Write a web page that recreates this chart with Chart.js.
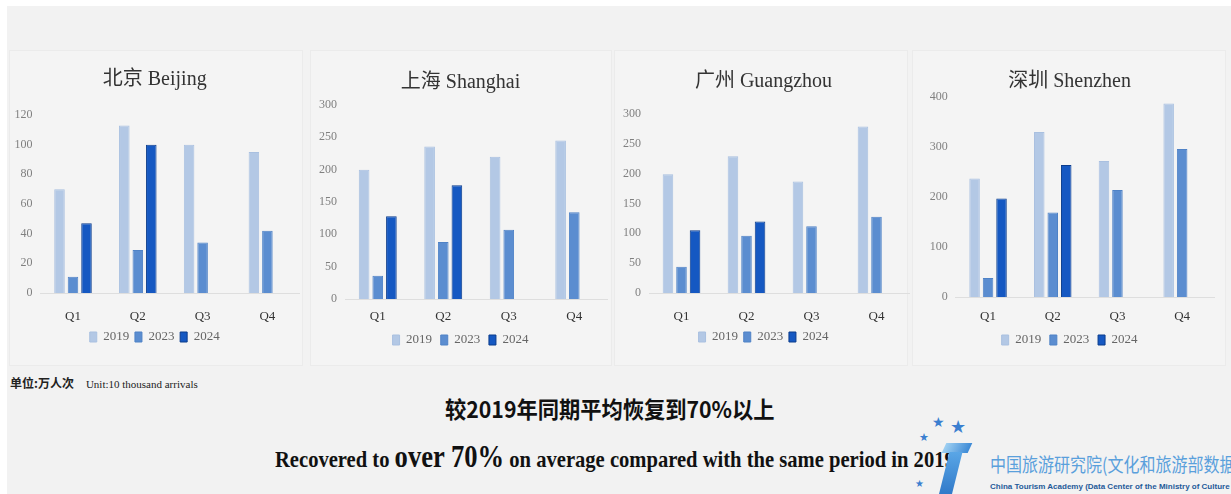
<!DOCTYPE html>
<html>
<head>
<meta charset="utf-8">
<script src="https://cdn.jsdelivr.net/npm/chart.js@4.4.1/dist/chart.umd.min.js"></script>
<style>
  html, body { margin: 0; padding: 0; background: #fff; }
  #stage { position: relative; width: 1231px; height: 494px; overflow: hidden; background: #fff; }
  #bg { position: absolute; left: 7px; top: 6px; right: 0; bottom: 0; background: #f2f2f2; }
  .panel { position: absolute; top: 50px; height: 316px; background: #f4f4f4; border: 1px solid #ebebeb; box-sizing: border-box; }
  .chartbox { position: absolute; }
  .unit { position: absolute; left: 10px; top: 374px; font-size: 12px; color: #222; white-space: nowrap; }
  .unit b { font-family: "Noto Sans CJK SC", sans-serif; font-weight: 700; }
  .unit span { font-family: "Liberation Serif", serif; font-size: 11px; margin-left: 12px; }
  .head-cn { position: absolute; left: 445px; top: 393px; font-family: "Noto Sans CJK SC", sans-serif; font-weight: 700; font-size: 23px; color: #111; line-height: 30px; white-space: nowrap; transform-origin: left top; }
  .head-en { position: absolute; left: 275px; top: 440px; font-family: "Liberation Serif", serif; font-weight: 700; font-size: 24px; color: #111; white-space: nowrap; transform-origin: left top; line-height: 34px; }
  .head-en .big { font-size: 31px; }
  .star { position: absolute; color: #3b7fd0; line-height: 1; }
  .logo-cn { position: absolute; left: 990px; top: 452px; font-family: "Noto Sans CJK SC", sans-serif; font-size: 16px; color: #5aa0dc; white-space: nowrap; line-height: 20px; transform: scaleY(1.2); transform-origin: left top; }
  .logo-en { position: absolute; left: 990px; top: 482px; font-family: "Liberation Sans", sans-serif; font-weight: 700; font-size: 8px; color: #1f5a99; white-space: nowrap; }
</style>
</head>
<body>
<div id="stage">
  <div id="bg"></div>
  <div class="panel" style="left:9px;width:294px"></div>
  <div class="panel" style="left:310px;width:302px"></div>
  <div class="panel" style="left:614px;width:294px"></div>
  <div class="panel" style="left:912px;width:314px"></div>

  <div class="chartbox" id="box0"><canvas id="c0"></canvas></div>
  <div class="chartbox" id="box1"><canvas id="c1"></canvas></div>
  <div class="chartbox" id="box2"><canvas id="c2"></canvas></div>
  <div class="chartbox" id="box3"><canvas id="c3"></canvas></div>

  <div class="unit"><b>单位:万人次</b><span>Unit:10 thousand arrivals</span></div>
  <div class="head-cn" id="headCn">较2019年同期平均恢复到70%以上</div>
  <div class="head-en" id="headEn">Recovered to <span class="big">over 70%</span> on average compared with the same period in 2019</div>

  <!-- logo -->
  <div class="star" style="left:932px;top:416px;font-size:14px">★</div>
  <div class="star" style="left:950px;top:418px;font-size:18px">★</div>
  <div class="star" style="left:919px;top:432px;font-size:11px">★</div>
  <div class="star" style="left:915px;top:479px;font-size:10px">★</div>
  <div style="position:absolute;left:944px;top:443px;width:26px;height:10px;background:linear-gradient(90deg,#9fd0f2,#3d8ad6);transform:skewX(-25deg)"></div>
  <div style="position:absolute;left:944px;top:452px;width:13px;height:44px;background:linear-gradient(180deg,#5aa6e6,#2f78c8);transform:skewX(-14deg)"></div>
  <div class="logo-cn">中国旅游研究院(文化和旅游部数据中心)</div>
  <div class="logo-en">China Tourism Academy (Data Center of the Ministry of Culture and Tourism)</div>
</div>

<script>
const quarters = ['Q1', 'Q2', 'Q3', 'Q4'];
const years = ['2019', '2023', '2024'];

const beijing2019 = [70, 113, 100, 95];
const beijing2023 = [11, 29, 34, 42];
const beijing2024 = [47, 100, null, null];
const beijingTicks = [0, 20, 40, 60, 80, 100, 120];

const shanghai2019 = [200, 236, 220, 245];
const shanghai2023 = [36, 88, 107, 134];
const shanghai2024 = [128, 176, null, null];
const shanghaiTicks = [0, 50, 100, 150, 200, 250, 300];

const guangzhou2019 = [199, 229, 187, 279];
const guangzhou2023 = [44, 96, 112, 128];
const guangzhou2024 = [105, 120, null, null];
const guangzhouTicks = [0, 50, 100, 150, 200, 250, 300];

const shenzhen2019 = [237, 330, 272, 387];
const shenzhen2023 = [38, 169, 214, 296];
const shenzhen2024 = [197, 264, null, null];
const shenzhenTicks = [0, 100, 200, 300, 400];

const barColors = ['#b3c8e5', '#5b8dd0', '#1558c2'];
const barBorders = ['#a9c0e0', '#4f82c6', '#0b3c8c'];

// where each panel sits on the page (px)
const panels = [
  { left: 9,   width: 294, plotLeft: 40.6,  plotRight: 299.8,  titleY: 80, plotTop: 115, baseline: 293, labelY: 317, legendY: 337 },
  { left: 310, width: 302, plotLeft: 345,   plotRight: 607,    titleY: 83, plotTop: 105, baseline: 299, labelY: 317, legendY: 340 },
  { left: 614, width: 298, plotLeft: 649,   plotRight: 909,    titleY: 82, plotTop: 114, baseline: 293, labelY: 317, legendY: 337 },
  { left: 912, width: 314, plotLeft: 955.7, plotRight: 1214.5, titleY: 82, plotTop: 97,  baseline: 297, labelY: 317, legendY: 340 }
];
const TOP = 50, HEIGHT = 316, Y_AXIS_W = 31;

const serif = "'Liberation Serif', 'Times New Roman', serif";

function makeChart(i, title, s2019, s2023, s2024, ticks) {
  const p = panels[i];
  const box = document.getElementById('box' + i);
  box.style.left = p.left + 'px';
  box.style.top = TOP + 'px';
  box.style.width = p.width + 'px';
  box.style.height = HEIGHT + 'px';

  const xTickPad = p.labelY - p.baseline - 7.8;
  const xH = xTickPad + 15.6;
  const legPad = p.legendY - p.labelY - 14.3;
  const legH = 13 + legPad + 10;
  const padBottom = TOP + HEIGHT - (p.baseline + xH + legH);

  const step = ticks[1] - ticks[0];
  const series = [s2019, s2023, s2024];

  return new Chart(document.getElementById('c' + i), {
    type: 'bar',
    data: {
      labels: quarters,
      datasets: years.map((y, k) => ({
        label: y,
        data: series[k],
        backgroundColor: barColors[k],
        borderColor: barBorders[k],
        borderWidth: 1,
        categoryPercentage: 0.625,
        barPercentage: 0.78
      }))
    },
    options: {
      responsive: true,
      maintainAspectRatio: false,
      animation: false,
      layout: {
        padding: {
          left: p.plotLeft - Y_AXIS_W - p.left,
          right: p.left + p.width - p.plotRight,
          top: 0,
          bottom: padBottom
        }
      },
      plugins: {
        title: {
          display: true,
          text: title,
          color: '#333',
          font: { family: serif + ", 'Noto Sans CJK SC'", size: 20, weight: 'normal' },
          padding: { top: p.titleY - TOP - 12, bottom: p.plotTop - p.titleY - 12 }
        },
        legend: {
          position: 'bottom',
          labels: {
            boxWidth: 7,
            boxHeight: 10,
            padding: legPad,
            color: '#666',
            font: { family: serif, size: 13 }
          }
        },
        tooltip: { enabled: false }
      },
      scales: {
        x: {
          grid: { display: false, drawTicks: false },
          border: { display: true, color: '#dedede' },
          ticks: { color: '#333', padding: xTickPad, font: { family: serif, size: 13 } },
          afterFit: s => { s.height = xH; }
        },
        y: {
          min: ticks[0],
          max: ticks[ticks.length - 1],
          grid: { display: false, drawTicks: false },
          border: { display: false },
          ticks: { stepSize: step, color: '#808080', padding: 8, font: { family: serif, size: 12 } },
          afterFit: s => { s.width = Y_AXIS_W; }
        }
      }
    }
  });
}

makeChart(0, '北京 Beijing', beijing2019, beijing2023, beijing2024, beijingTicks);
makeChart(1, '上海 Shanghai', shanghai2019, shanghai2023, shanghai2024, shanghaiTicks);
makeChart(2, '广州 Guangzhou', guangzhou2019, guangzhou2023, guangzhou2024, guangzhouTicks);
makeChart(3, '深圳 Shenzhen', shenzhen2019, shenzhen2023, shenzhen2024, shenzhenTicks);

// squeeze the headlines to the widths they have in the picture
const headEn = document.getElementById('headEn');
headEn.style.transform = 'scaleX(' + (680 / headEn.offsetWidth) + ')';
const headCn = document.getElementById('headCn');
headCn.style.transform = 'scaleX(' + (330 / headCn.offsetWidth) + ')';
</script>
</body>
</html>
